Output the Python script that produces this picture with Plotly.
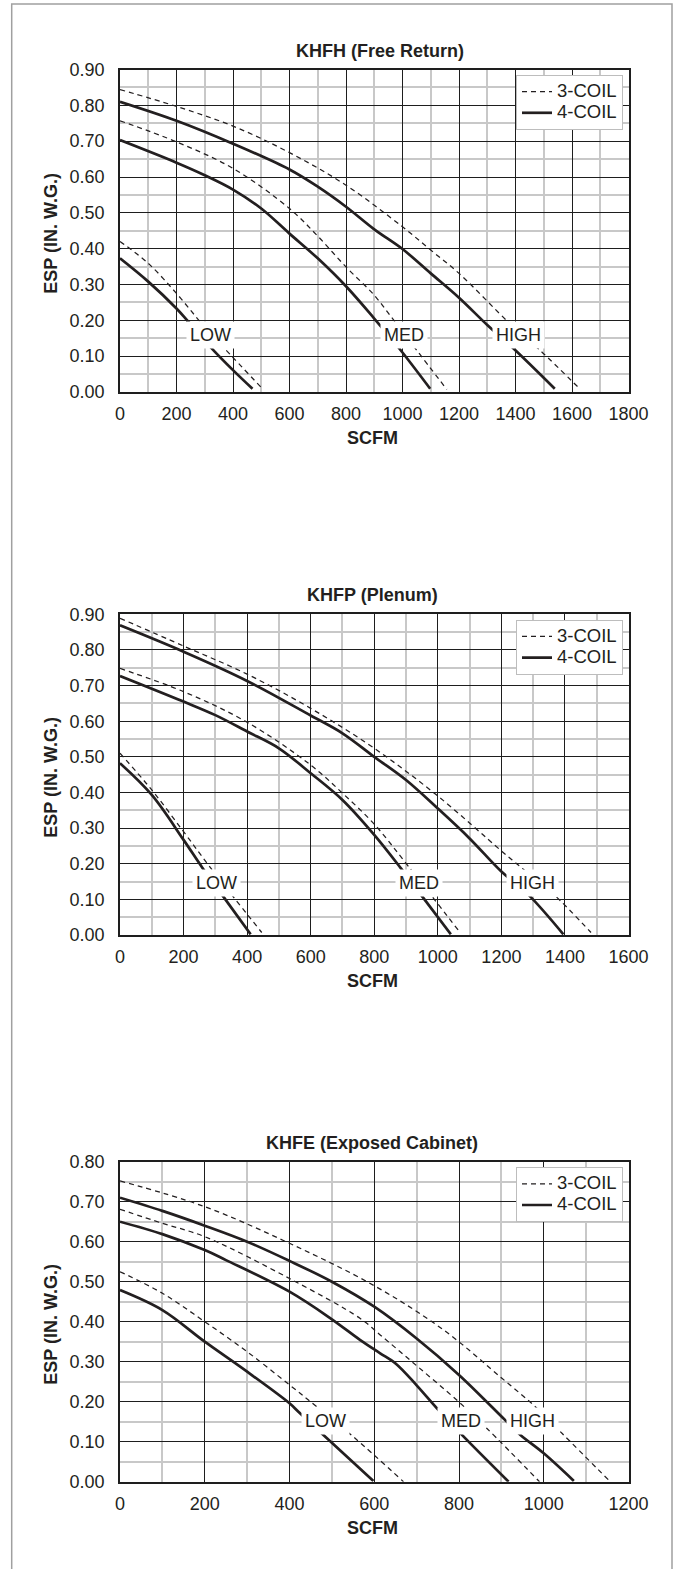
import plotly.graph_objects as go

# ---------------- DATA ----------------
# Chart 1: KHFH (Free Return)
khfh_title = "KHFH (Free Return)"
khfh_xmax, khfh_ymax = 1800, 0.9
khfh_low_3c_x = [0, 100, 200, 284, 367, 507]
khfh_low_3c_y = [0.420, 0.359, 0.275, 0.196, 0.124, 0.007]
khfh_low_4c_x = [0, 100, 200, 242, 322, 400, 469]
khfh_low_4c_y = [0.373, 0.308, 0.233, 0.196, 0.124, 0.061, 0.009]
khfh_med_3c_x = [0, 200, 400, 600, 700, 800, 900, 976, 1045, 1157]
khfh_med_3c_y = [0.757, 0.698, 0.624, 0.512, 0.435, 0.349, 0.270, 0.193, 0.122, 0.007]
khfh_med_4c_x = [0, 200, 300, 400, 500, 600, 700, 800, 900, 988, 1098]
khfh_med_4c_y = [0.703, 0.640, 0.605, 0.565, 0.512, 0.442, 0.373, 0.295, 0.205, 0.122, 0.009]
khfh_high_3c_x = [0, 200, 400, 600, 800, 1000, 1100, 1200, 1380, 1486, 1630]
khfh_high_3c_y = [0.844, 0.797, 0.742, 0.668, 0.577, 0.461, 0.396, 0.331, 0.191, 0.117, 0.007]
khfh_high_4c_x = [0, 200, 400, 600, 700, 800, 900, 1000, 1100, 1200, 1300, 1392, 1539]
khfh_high_4c_y = [0.810, 0.757, 0.693, 0.621, 0.573, 0.517, 0.454, 0.399, 0.331, 0.263, 0.187, 0.122, 0.009]
khfh_label_x = [319, 1006, 1411]
khfh_label_y = [0.158, 0.158, 0.158]

# Chart 2: KHFP (Plenum)
khfp_title = "KHFP (Plenum)"
khfp_xmax, khfp_ymax = 1600, 0.9
khfp_low_3c_x = [0, 100, 200, 282, 446]
khfp_low_3c_y = [0.510, 0.407, 0.290, 0.192, 0.007]
khfp_low_4c_x = [0, 100, 200, 259, 320, 411]
khfp_low_4c_y = [0.482, 0.393, 0.267, 0.189, 0.114, 0.002]
khfp_med_3c_x = [0, 200, 400, 600, 700, 800, 908, 1070]
khfp_med_3c_y = [0.748, 0.683, 0.597, 0.477, 0.398, 0.311, 0.192, 0.007]
khfp_med_4c_x = [0, 200, 300, 400, 500, 600, 700, 800, 884, 946, 1041]
khfp_med_4c_y = [0.727, 0.655, 0.617, 0.571, 0.524, 0.454, 0.379, 0.281, 0.187, 0.114, 0.002]
khfp_high_3c_x = [0, 200, 400, 600, 800, 1000, 1200, 1259, 1361, 1482]
khfp_high_3c_y = [0.889, 0.811, 0.732, 0.636, 0.524, 0.390, 0.236, 0.192, 0.117, 0.007]
khfp_high_4c_x = [0, 200, 400, 600, 700, 800, 900, 1000, 1100, 1200, 1284, 1395]
khfp_high_4c_y = [0.869, 0.795, 0.713, 0.616, 0.566, 0.500, 0.435, 0.355, 0.271, 0.178, 0.114, 0.002]
khfp_label_x = [305, 941, 1298]
khfp_label_y = [0.147, 0.147, 0.147]

# Chart 3: KHFE (Exposed Cabinet)
khfe_title = "KHFE (Exposed Cabinet)"
khfe_xmax, khfe_ymax = 1200, 0.8
khfe_low_3c_x = [0, 100, 200, 300, 400, 465, 551, 669]
khfe_low_3c_y = [0.525, 0.471, 0.400, 0.325, 0.242, 0.187, 0.112, 0.000]
khfe_low_4c_x = [0, 100, 200, 300, 400, 421, 480, 598]
khfe_low_4c_y = [0.479, 0.429, 0.350, 0.275, 0.196, 0.175, 0.117, 0.002]
khfe_med_3c_x = [0, 100, 200, 400, 567, 614, 700, 799, 866, 990]
khfe_med_3c_y = [0.681, 0.646, 0.6125, 0.508, 0.408, 0.367, 0.290, 0.200, 0.133, 0.000]
khfe_med_4c_x = [0, 100, 200, 250, 400, 500, 567, 614, 651, 700, 748, 807, 917]
khfe_med_4c_y = [0.650, 0.619, 0.579, 0.554, 0.475, 0.406, 0.354, 0.321, 0.295, 0.241, 0.1835, 0.117, 0.000]
khfe_high_3c_x = [0, 200, 400, 600, 764, 902, 980, 1043, 1157]
khfe_high_3c_y = [0.752, 0.6875, 0.596, 0.490, 0.379, 0.258, 0.1875, 0.121, 0.000]
khfe_high_4c_x = [0, 100, 200, 300, 400, 500, 600, 700, 800, 909, 945, 1000, 1071]
khfe_high_4c_y = [0.710, 0.677, 0.640, 0.600, 0.552, 0.500, 0.4375, 0.358, 0.267, 0.154, 0.117, 0.071, 0.002]
khfe_label_x = [486, 805, 973]
khfe_label_y = [0.151, 0.151, 0.151]

speed_labels = ["LOW", "MED", "HIGH"]
series_names = ["3-COIL", "4-COIL"]
x_title = "SCFM"
y_title = "ESP (IN. W.G.)"

# ---------------- STYLE / LAYOUT ----------------
W, H = 674, 1569
FONT = "Liberation Sans, Arial, Helvetica, sans-serif"
INK = "#231f20"
MAJOR = "#1e1e1e"
MINOR = "#c8c8c8"
PLOT_L, PLOT_R = 120, 628.5
# (top px, bottom px) of each plot area
PLOT_TB = [(69.5, 392.0), (614.3, 935.0), (1161.7, 1481.7)]
TITLE_CX = [379.6, 372.8, 372.4]


def px(x):
    return x / W


def py(y):
    return 1 - y / H


charts = [
    dict(title=khfh_title, xmax=khfh_xmax, ymax=khfh_ymax,
         series=[(khfh_low_3c_x, khfh_low_3c_y, khfh_low_4c_x, khfh_low_4c_y),
                 (khfh_med_3c_x, khfh_med_3c_y, khfh_med_4c_x, khfh_med_4c_y),
                 (khfh_high_3c_x, khfh_high_3c_y, khfh_high_4c_x, khfh_high_4c_y)],
         lx=khfh_label_x, ly=khfh_label_y),
    dict(title=khfp_title, xmax=khfp_xmax, ymax=khfp_ymax,
         series=[(khfp_low_3c_x, khfp_low_3c_y, khfp_low_4c_x, khfp_low_4c_y),
                 (khfp_med_3c_x, khfp_med_3c_y, khfp_med_4c_x, khfp_med_4c_y),
                 (khfp_high_3c_x, khfp_high_3c_y, khfp_high_4c_x, khfp_high_4c_y)],
         lx=khfp_label_x, ly=khfp_label_y),
    dict(title=khfe_title, xmax=khfe_xmax, ymax=khfe_ymax,
         series=[(khfe_low_3c_x, khfe_low_3c_y, khfe_low_4c_x, khfe_low_4c_y),
                 (khfe_med_3c_x, khfe_med_3c_y, khfe_med_4c_x, khfe_med_4c_y),
                 (khfe_high_3c_x, khfe_high_3c_y, khfe_high_4c_x, khfe_high_4c_y)],
         lx=khfe_label_x, ly=khfe_label_y),
]

fig = go.Figure()
layout = dict(
    width=W, height=H,
    margin=dict(l=0, r=0, t=0, b=0),
    paper_bgcolor="white", plot_bgcolor="white",
    font=dict(family=FONT, size=18, color=INK),
    annotations=[], shapes=[],
)


def legend_name(s):
    return '<span style="font-size:18.5px">' + s + "</span>"


for i, c in enumerate(charts):
    n = "" if i == 0 else str(i + 1)
    xa, ya = "x" + n, "y" + n
    leg = "legend" + n
    top, bot = PLOT_TB[i]
    for j, (x3, y3, x4, y4) in enumerate(c["series"]):
        fig.add_trace(go.Scatter(
            x=x3, y=y3, mode="lines", xaxis=xa, yaxis=ya, legend=leg,
            name=legend_name(series_names[0]), showlegend=(j == 0), legendrank=1,
            line=dict(color=INK, width=1.25, dash="5px,4px", shape="spline", smoothing=1.0),
            hoverinfo="skip"))
        fig.add_trace(go.Scatter(
            x=x4, y=y4, mode="lines", xaxis=xa, yaxis=ya, legend=leg,
            name=legend_name(series_names[1]), showlegend=(j == 0), legendrank=2,
            line=dict(color=INK, width=2.7, shape="spline", smoothing=1.0),
            hoverinfo="skip"))
    axcommon = dict(showline=True, mirror=True, linecolor=MAJOR, linewidth=1.5,
                    showgrid=True, gridcolor=MAJOR, gridwidth=1.2, zeroline=False,
                    ticks="", automargin=False, fixedrange=True,
                    tickfont=dict(family=FONT, size=18, color=INK))
    layout["xaxis" + n] = dict(
        axcommon, domain=[px(PLOT_L), px(PLOT_R)], anchor=ya,
        range=[0, c["xmax"]], tick0=0, dtick=200, ticklabelstandoff=5,
        minor=dict(tick0=0, dtick=100, showgrid=True, gridcolor=MINOR, gridwidth=1.5, ticks=""))
    layout["yaxis" + n] = dict(
        axcommon, domain=[py(bot), py(top)], anchor=xa,
        range=[0, c["ymax"]], tick0=0, dtick=0.1, tickformat=".2f", ticklabelstandoff=10,
        minor=dict(tick0=0, dtick=0.05, showgrid=True, gridcolor=MINOR, gridwidth=1.5, ticks=""))
    layout[leg] = dict(
        x=px(623), xanchor="right", y=py(top + 5.5), yanchor="top",
        bgcolor="white", bordercolor="#bdbdbd", borderwidth=1,
        font=dict(family=FONT, size=14, color=INK), tracegroupgap=0,
        traceorder="normal")
    # chart title
    layout["annotations"].append(dict(
        text="<b>" + c["title"] + "</b>", xref="paper", yref="paper",
        x=px(TITLE_CX[i]), y=py(top - 19), xanchor="center", yanchor="middle",
        showarrow=False, font=dict(family=FONT, size=18, color=INK)))
    # axis titles
    layout["annotations"].append(dict(
        text="<b>" + x_title + "</b>", xref="paper", yref="paper",
        x=px((PLOT_L + PLOT_R) / 2 - 2), y=py(bot + 46), xanchor="center", yanchor="middle",
        showarrow=False, font=dict(family=FONT, size=18, color=INK)))
    layout["annotations"].append(dict(
        text="<b>" + y_title + "</b>", xref="paper", yref="paper", textangle=-90,
        x=px(51), y=py((top + bot) / 2 + 3), xanchor="center", yanchor="middle",
        showarrow=False, font=dict(family=FONT, size=18, color=INK)))
    # speed labels
    for k, lab in enumerate(speed_labels):
        layout["annotations"].append(dict(
            text=lab, xref=xa, yref=ya, x=c["lx"][k], y=c["ly"][k],
            xanchor="center", yanchor="middle", showarrow=False,
            bgcolor="white", borderpad=3,
            font=dict(family=FONT, size=18, color=INK)))

# outer frame of the figure
layout["shapes"].append(dict(
    type="rect", xref="paper", yref="paper",
    x0=px(11.7), x1=px(672), y0=-0.02, y1=py(4),
    line=dict(color="#a0a0a0", width=1.5), fillcolor="rgba(0,0,0,0)", layer="below"))

fig.update_layout(**layout)
fig.write_html("out.html", config={"displayModeBar": False, "responsive": False},
               post_script="document.body.style.margin='0';")
